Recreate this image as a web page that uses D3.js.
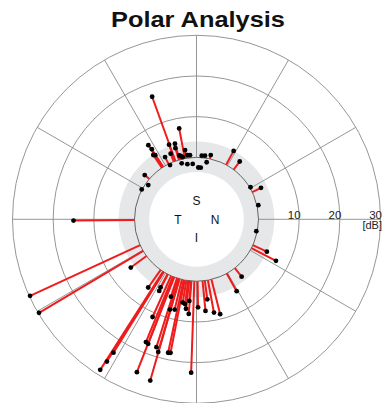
<!DOCTYPE html>
<html>
<head>
<meta charset="utf-8">
<script src="https://cdn.jsdelivr.net/npm/d3@7"></script>
<style>
  html, body { margin: 0; padding: 0; background: #fff; }
  text { font-family: "Liberation Sans", Arial, sans-serif; }
</style>
</head>
<body>
<svg id="chart" width="388" height="403"></svg>
<script>
// ---- data (angle in degrees, counter-clockwise from N axis at right; value in dB)
const angleDeg = [
  109.9, 100.8, 123.0, 122.5, 123.9, 122.8, 110.2, 105.9, 106.5, 111.5,
  116.8, 105.1, 104.0, 102.5, 99.4, 98.0, 95.8, 104.8, 99.4, 93.9,
  116.0, 85.3, 82.4, 77.5, 79.9, 88.0, 85.3, 139.5, 144.6, 151.4,
  61.5, 53.2, 30.7, 26.0, 12.9, -11.2,
  -24.7, -27.6, -51.8, -60.8,
  180.6, 204.7, 210.7, 216.3, 237.4, 237.8, 238.1,
  234.7, 242.5, 242.2, 245.8, 247.6, 248.8, 248.7, 251.7, 252.6,
  253.9, 254.0, 253.6, 256.4, 258.0, 259.0, 260.6, 262.3, 263.3,
  265.0, 265.3, 268.0, 271.0, 277.7, 275.6, 280.6, 284.0
];
const valueDb = [
  16.8, 7.5, 6.5, 5.2, 3.8, 3.5, 4.3, 4.1, 3.0, 2.1,
  1.9, 1.0, 0.8, 0.4, 2.0, 0.7, 0.6, -1.0, -1.5, -1.6,
  -0.4, 0.45, 0.55, 0.94, -1.0, -2.5, -2.5, 1.5, -0.7, 0.1,
  3.9, 2.5, 0.2, 2.4, 0.35, -0.25,
  3.8, 6.8, 2.7, 5.0,
  15.0, 29.8, 29.8, 4.8, 28.7, 26.1, 23.4,
  5.3, 4.6, 3.7, 11.1, 17.4, 17.6, 25.1, 4.8, 17.7,
  18.7, 26.0, 7.9, 7.6, 18.3, 18.2, 5.5, 5.8, 6.9,
  4.9, 8.1, 22.5, 6.4, 4.6, 7.4, 8.1, 8.8
];
const ringTicks = [10, 20, 30];
const ringLabels = ["10", "20", "30"];
const unitLabel = "[dB]";
const spokeAngles = [0, 30, 60, 90, 120, 150, 180, 210, 240, 270, 300, 330];
const sectorNames = ["S", "N", "I", "T"];
const sectorAngles = [90, 0, 270, 180];
const normalBand = [-3.6, 3.9];
const titleText = "Polar Analysis";

// ---- layout
const W = 388, H = 403;
const cx = 196.5, cy = 219.3;
const svg = d3.select("#chart");

const r = d3.scaleLinear().domain([0, 30]).range([62, 184]);
const ang = d3.scaleLinear().domain([0, 360]).range([Math.PI / 2, Math.PI / 2 - 2 * Math.PI]);
const pt = (a, v) => { const p = d3.pointRadial(ang(a), r(v)); return [cx + p[0], cy + p[1]]; };

const g = svg.append("g");

// normal band (gray annulus)
g.append("path")
  .attr("transform", `translate(${cx},${cy})`)
  .attr("d", d3.arc().innerRadius(r(normalBand[0])).outerRadius(r(normalBand[1])).startAngle(0).endAngle(2 * Math.PI)())
  .attr("fill", "#e6e7e8");

// rings
g.selectAll("circle.ring").data(ringTicks).join("circle")
  .attr("class", "ring")
  .attr("cx", cx).attr("cy", cy)
  .attr("r", d => r(d))
  .attr("fill", "none").attr("stroke", "#8a8a8a").attr("stroke-width", 0.9);

// spokes
g.selectAll("line.spoke").data(spokeAngles).join("line")
  .attr("class", "spoke")
  .attr("x1", d => pt(d, 0)[0]).attr("y1", d => pt(d, 0)[1])
  .attr("x2", d => pt(d, 30)[0]).attr("y2", d => pt(d, 30)[1])
  .attr("stroke", "#8a8a8a").attr("stroke-width", 0.9);

// base circle
g.append("circle")
  .attr("cx", cx).attr("cy", cy).attr("r", r(0))
  .attr("fill", "none").attr("stroke", "#555").attr("stroke-width", 0.9);

const pts = angleDeg.map((a, i) => ({ a, v: valueDb[i] }));

// red spikes
g.selectAll("line.spike").data(pts.filter(d => d.v > 0)).join("line")
  .attr("class", "spike")
  .attr("x1", d => pt(d.a, 0)[0]).attr("y1", d => pt(d.a, 0)[1])
  .attr("x2", d => pt(d.a, d.v)[0]).attr("y2", d => pt(d.a, d.v)[1])
  .attr("stroke", "#ee1c1c").attr("stroke-width", 2);

// dots
g.selectAll("circle.dot").data(pts).join("circle")
  .attr("class", "dot")
  .attr("cx", d => pt(d.a, d.v)[0]).attr("cy", d => pt(d.a, d.v)[1])
  .attr("r", 2.4).attr("fill", "#000");

// ring labels
g.selectAll("text.rl").data(ringTicks).join("text")
  .attr("class", "rl")
  .attr("x", d => cx + r(d) + 1.5).attr("y", cy - 0.5)
  .attr("text-anchor", "end")
  .attr("font-size", 11.5).attr("fill", "#222")
  .text((d, i) => ringLabels[i]);
g.append("text")
  .attr("x", cx + r(30) + 1.5).attr("y", cy + 10)
  .attr("text-anchor", "end")
  .attr("font-size", 11).attr("fill", "#222")
  .text(unitLabel);

// sector labels
g.selectAll("text.sl").data(sectorNames).join("text")
  .attr("class", "sl")
  .attr("x", (d, i) => cx + 18.5 * Math.cos(sectorAngles[i] * Math.PI / 180))
  .attr("y", (d, i) => cy - 18.3 * Math.sin(sectorAngles[i] * Math.PI / 180))
  .attr("dy", "0.36em")
  .attr("text-anchor", "middle")
  .attr("font-size", 12).attr("fill", "#111")
  .text(d => d);

// title
svg.append("text")
  .attr("x", 198).attr("y", 26.5)
  .attr("text-anchor", "middle")
  .attr("font-size", 22.5).attr("font-weight", "bold").attr("fill", "#111")
  .attr("textLength", 174).attr("lengthAdjust", "spacingAndGlyphs")
  .text(titleText);
</script>
</body>
</html>
